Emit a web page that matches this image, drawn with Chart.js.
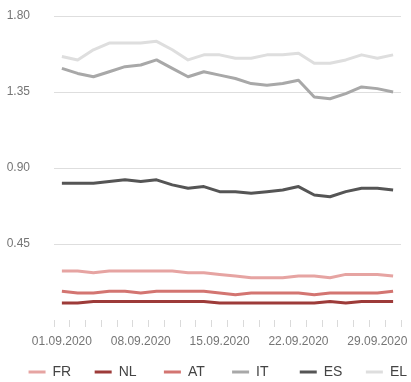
<!DOCTYPE html>
<html>
<head>
<meta charset="utf-8">
<script src="https://cdn.jsdelivr.net/npm/chart.js@4/dist/chart.umd.min.js"></script>
<style>
  html, body { margin: 0; padding: 0; background: #ffffff; }
  #wrap { width: 411px; height: 382px; position: relative; }
</style>
</head>
<body>
<div id="wrap"><canvas id="c"></canvas></div>
<script>
// Business days of September 2020
const dates = [
  '01.09.2020','02.09.2020','03.09.2020','04.09.2020',
  '07.09.2020','08.09.2020','09.09.2020','10.09.2020','11.09.2020',
  '14.09.2020','15.09.2020','16.09.2020','17.09.2020','18.09.2020',
  '21.09.2020','22.09.2020','23.09.2020','24.09.2020','25.09.2020',
  '28.09.2020','29.09.2020','30.09.2020'
];

// 10-year spreads per country
const FR = [0.29,0.29,0.28,0.29,0.29,0.29,0.29,0.29,0.28,0.28,0.27,0.26,0.25,0.25,0.25,0.26,0.26,0.25,0.27,0.27,0.27,0.26];
const NL = [0.10,0.10,0.11,0.11,0.11,0.11,0.11,0.11,0.11,0.11,0.10,0.10,0.10,0.10,0.10,0.10,0.10,0.11,0.10,0.11,0.11,0.11];
const AT = [0.17,0.16,0.16,0.17,0.17,0.16,0.17,0.17,0.17,0.17,0.16,0.15,0.16,0.16,0.16,0.16,0.15,0.16,0.16,0.16,0.16,0.17];
const IT = [1.49,1.46,1.44,1.47,1.50,1.51,1.54,1.49,1.44,1.47,1.45,1.43,1.40,1.39,1.40,1.42,1.32,1.31,1.34,1.38,1.37,1.35];
const ES = [0.81,0.81,0.81,0.82,0.83,0.82,0.83,0.80,0.78,0.79,0.76,0.76,0.75,0.76,0.77,0.79,0.74,0.73,0.76,0.78,0.78,0.77];
const EL = [1.56,1.54,1.60,1.64,1.64,1.64,1.65,1.60,1.54,1.57,1.57,1.55,1.55,1.57,1.57,1.58,1.52,1.52,1.54,1.57,1.55,1.57];

const yTicks = [0, 0.45, 0.90, 1.35, 1.80];

const FONT = "'Liberation Sans', Arial, sans-serif";
const LEGEND_SIZE = 14;
const LEGEND_BOX = 17;
const LEGEND_PAD = 4;
const LEGEND_STEP = 68; // distance from one legend swatch to the next

// Pads a legend label with trailing spaces so every entry takes the same room
const measureCtx = document.createElement('canvas').getContext('2d');
measureCtx.font = LEGEND_SIZE + 'px ' + FONT;
function padLabel(text, isLast) {
  if (isLast) return text;
  const target = LEGEND_STEP - LEGEND_PAD - LEGEND_BOX - LEGEND_SIZE / 2;
  let t = text;
  while (measureCtx.measureText(t + ' ').width <= target + 1.5) t += ' ';
  return t;
}

function series(label, data, color) {
  return {
    label, data,
    borderColor: color,
    backgroundColor: color,
    borderWidth: 3,
    pointRadius: 0,
    pointHoverRadius: 0,
    tension: 0,
    borderJoinStyle: 'round',
    borderCapStyle: 'butt'
  };
}

new Chart(document.getElementById('c'), {
  type: 'line',
  data: {
    labels: dates,
    datasets: [
      series('FR', FR, '#e6a4a2'),
      series('NL', NL, '#9d3b39'),
      series('AT', AT, '#d37571'),
      series('IT', IT, '#a8a8a8'),
      series('ES', ES, '#555555'),
      series('EL', EL, '#dedede')
    ]
  },
  options: {
    responsive: true,
    maintainAspectRatio: false,
    animation: false,
    layout: { padding: { top: 16, left: 0, right: 0, bottom: -7 } },
    plugins: {
      tooltip: { enabled: false },
      legend: {
        position: 'bottom',
        align: 'end',
        labels: {
          font: { family: FONT, size: LEGEND_SIZE },
          color: '#444444',
          boxWidth: LEGEND_BOX,
          boxHeight: 3,
          padding: LEGEND_PAD,
          generateLabels(chart) {
            const items = Chart.defaults.plugins.legend.labels.generateLabels(chart);
            items.forEach((it, i) => {
              it.lineWidth = 0;
              it.text = padLabel(it.text, i === items.length - 1);
            });
            return items;
          }
        }
      }
    },
    scales: {
      x: {
        offset: true,
        border: { display: false },
        grid: {
          offset: true,
          drawOnChartArea: false,
          drawTicks: true,
          tickLength: 7,
          color: '#dadada'
        },
        ticks: {
          autoSkip: false,
          maxRotation: 0,
          minRotation: 0,
          padding: 7,
          color: '#757575',
          font: { family: FONT, size: 12 },
          callback(v, i) { return i % 5 === 0 ? dates[i] : ''; }
        },
        afterFit(scale) {
          scale.height = 41;
          scale.paddingRight = 10;
        }
      },
      y: {
        min: 0,
        max: 1.80,
        border: { display: false },
        grid: {
          drawTicks: false,
          lineWidth: 1,
          color: ctx => (ctx.tick && ctx.tick.value === 0) ? 'rgba(0,0,0,0)' : '#dedede'
        },
        afterBuildTicks(axis) { axis.ticks = yTicks.map(v => ({ value: v })); },
        ticks: {
          padding: 24,
          color: '#757575',
          font: { family: FONT, size: 12 },
          callback(v) { return v === 0 ? '' : v.toFixed(2); }
        },
        afterFit(scale) {
          scale.width = 54;
          scale.paddingTop = 0;
          scale.paddingBottom = 0;
        }
      }
    }
  }
});
</script>
</body>
</html>
